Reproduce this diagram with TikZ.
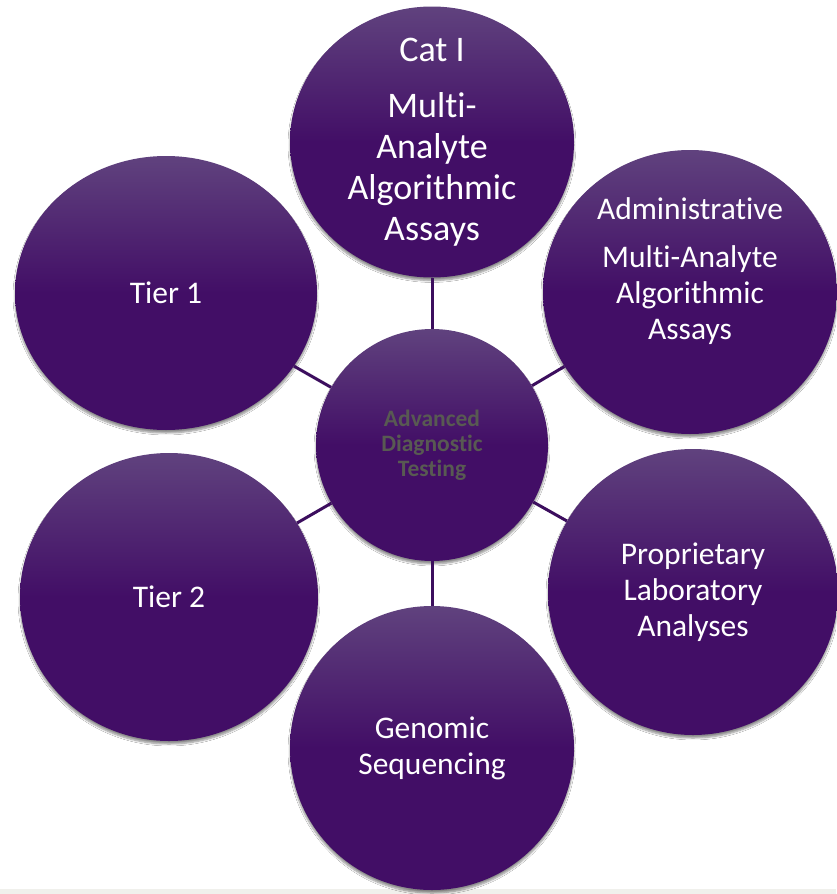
\documentclass[tikz,border=0pt]{standalone}
\usepackage{fontspec}
\setmainfont{Carlito}[Ligatures=NoCommon]
\usetikzlibrary{shapes.geometric,shadows.blur}

\definecolor{bubtop}{RGB}{96,66,126}
\definecolor{bubdark}{RGB}{66,14,102}
\definecolor{linkcol}{RGB}{60,14,94}
\definecolor{hubtext}{RGB}{88,90,82}
\definecolor{slidegray}{RGB}{240,240,236}

\tikzset{
  bubble/.style={ellipse,inner sep=0pt,top color=bubtop,bottom color=bubdark,middle color=bubdark,
    blur shadow={shadow xshift=0pt,shadow yshift=-3pt,shadow blur steps=6,shadow opacity=45}},
  bubtxt/.style={align=center,text=white,font=\fontsize{31.5}{36}\selectfont},
  link/.style={draw=linkcol,line width=3pt},
}

\begin{document}
\begin{tikzpicture}[x=1pt,y=-1pt]
		\useasboundingbox[fill=white] (0,0) rectangle (836,894);
		\fill[slidegray] (0,889) rectangle (836,894);

		% outer bubbles
		\node[bubble,minimum width=284pt,minimum height=271pt] (cat) at (432,142) {};
		\node[bubble,minimum width=294pt,minimum height=284pt] (admin) at (690,292) {};
		\node[bubble,minimum width=290pt,minimum height=286pt] (pla) at (693,592) {};
		\node[bubble,minimum width=284pt,minimum height=284pt] (genomic) at (432,748) {};
		\node[bubble,minimum width=298pt,minimum height=288pt] (tiertwo) at (169,597) {};
		\node[bubble,minimum width=302pt,minimum height=274pt] (tierone) at (166,293) {};

		% hub
		\node[bubble,minimum size=232pt] (hub) at (432,445) {};

		% spokes
		\draw[link] (hub) -- (cat);
		\draw[link] (hub) -- (admin);
		\draw[link] (hub) -- (pla);
		\draw[link] (hub) -- (genomic);
		\draw[link] (hub) -- (tiertwo);
		\draw[link] (hub) -- (tierone);

		% labels
		\node[bubtxt,font=\fontsize{36}{41}\selectfont] (cattxt) at (cat) {Cat I\\[15pt]Multi-\\Analyte\\Algorithmic\\Assays};
		\node[bubtxt] (admintxt) at ([yshift=21pt]admin.center) {Administrative\\[12pt]Multi-Analyte\\Algorithmic\\Assays};
		\node[bubtxt] (platxt) at (pla) {Proprietary\\Laboratory\\Analyses};
		\node[bubtxt] (genomictxt) at (genomic) {Genomic\\Sequencing};
		\node[bubtxt] (tiertwotxt) at (tiertwo) {Tier 2};
		\node[bubtxt] (tieronetxt) at (tierone) {Tier 1};
		\node[align=center,text=hubtext,font=\fontsize{23.5}{25}\selectfont\bfseries] (hubtxt) at (hub) {Advanced\\Diagnostic\\Testing};

\end{tikzpicture}
\end{document}
